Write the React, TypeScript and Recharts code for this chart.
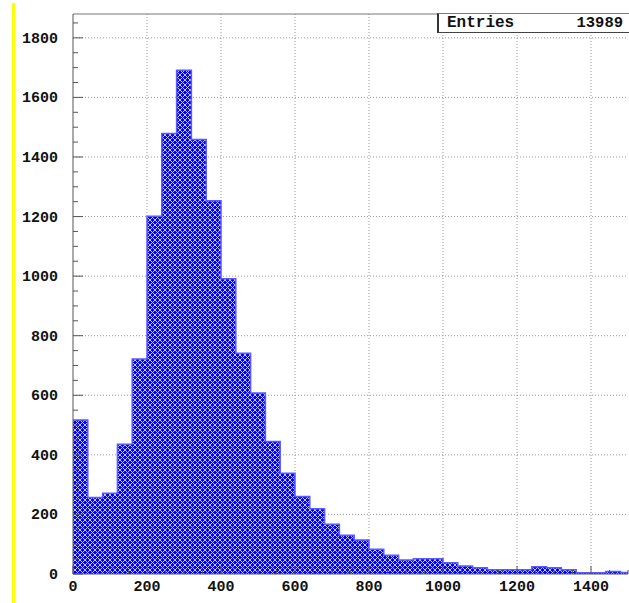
import React from 'react';
import { AreaChart, Area, XAxis, YAxis, CartesianGrid, ReferenceLine } from 'recharts';

// histogram bins, 40 wide, left edges
const binEdges = [
  0, 40, 80, 120, 160, 200, 240, 280, 320, 360, 400, 440, 480, 520, 560, 600, 640, 680, 720,
  760, 800, 840, 880, 920, 960, 1000, 1040, 1080, 1120, 1160, 1200, 1240, 1280, 1320, 1360,
  1400, 1440, 1480,
];
const counts = [
  517, 257, 271, 436, 722, 1201, 1479, 1691, 1459, 1253, 991, 741, 608, 445, 338, 260, 219,
  167, 130, 114, 83, 63, 47, 51, 51, 38, 27, 21, 14, 14, 14, 24, 21, 14, 4, 4, 8, 5,
];
const xMax = 1500;
const yMax = 1880;
const entries = 13989;

const xMajor = [0, 200, 400, 600, 800, 1000, 1200, 1400];
const yMajor = [0, 200, 400, 600, 800, 1000, 1200, 1400, 1600, 1800];
const xTicks = Array.from({ length: 31 }, (_, i) => i * 50);
const yTicks = Array.from({ length: 38 }, (_, i) => i * 50);

// step data: each edge carries its bin count, closing point at the axis end
const data = binEdges.map((x, i) => ({ x, count: counts[i] }));
data.push({ x: xMax, count: counts[counts.length - 1] });

const tickFont = { fontFamily: '"Liberation Mono", monospace', fontWeight: 700, fontSize: 15, fill: '#111' };

const YTick = (props: any) => {
  const { x, y, payload } = props;
  const v = payload.value;
  const major = v % 200 === 0;
  return (
    <g>
      <line x1={x} x2={x + (major ? 10 : 5)} y1={y} y2={y} stroke="#555" />
      {major && (
        <text x={x - 15} y={y} dy={5} textAnchor="end" {...tickFont}>
          {v}
        </text>
      )}
    </g>
  );
};

const XTick = (props: any) => {
  const { x, y, payload } = props;
  const v = payload.value;
  const major = v % 200 === 0;
  return (
    <g>
      <line x1={x} x2={x} y1={y} y2={y - (major ? 8 : 4)} stroke="#555" />
      {major && (
        <text x={x} y={y + 17} textAnchor="middle" {...tickFont}>
          {v}
        </text>
      )}
    </g>
  );
};

export default function App() {
  return (
    <div style={{ position: 'absolute', left: 0, top: 0, width: 629, height: 603, background: '#fff' }}>
      <div style={{ position: 'absolute', left: 12, top: 3, width: 2.5, height: 600, background: '#ffff00' }} />
      <AreaChart width={629} height={603} data={data} margin={{ top: 14, right: 1, bottom: 0, left: 0 }}>
        <defs>
          <pattern id="hatch" width="5" height="5" patternUnits="userSpaceOnUse">
            <rect width="5" height="5" fill="#0000ff" />
            <rect x="0" y="0" width="1" height="1" fill="#c8c8ff" />
            <rect x="1" y="1" width="1" height="1" fill="#c8c8ff" />
            <rect x="2" y="2" width="1" height="1" fill="#c8c8ff" />
            <rect x="3" y="3" width="1" height="1" fill="#c8c8ff" />
            <rect x="4" y="4" width="1" height="1" fill="#c8c8ff" />
            <rect x="4" y="0" width="1" height="1" fill="#c8c8ff" />
            <rect x="3" y="1" width="1" height="1" fill="#c8c8ff" />
            <rect x="1" y="3" width="1" height="1" fill="#c8c8ff" />
            <rect x="0" y="4" width="1" height="1" fill="#c8c8ff" />
          </pattern>
        </defs>
        <CartesianGrid
          stroke="#999"
          strokeDasharray="1 2"
          horizontalValues={yMajor.slice(1)}
          verticalValues={xMajor.slice(1)}
        />
        <XAxis
          dataKey="x"
          type="number"
          domain={[0, xMax]}
          ticks={xTicks}
          interval={0}
          height={29}
          tickSize={0}
          tickMargin={0}
          tick={<XTick />}
          axisLine={{ stroke: '#555' }}
          allowDataOverflow
        />
        <YAxis
          type="number"
          domain={[0, yMax]}
          ticks={yTicks}
          interval={0}
          width={73}
          tickSize={0}
          tickMargin={0}
          tick={<YTick />}
          axisLine={{ stroke: '#555' }}
          allowDataOverflow
        />
        <ReferenceLine y={yMax} stroke="#777" />
        <Area
          type="stepAfter"
          dataKey="count"
          stroke="#5a5aff"
          strokeWidth={1.5}
          fill="url(#hatch)"
          fillOpacity={1}
          dot={false}
          activeDot={false}
          isAnimationActive={false}
        />
      </AreaChart>
      <div
        style={{
          position: 'absolute',
          left: 437,
          top: 13,
          width: 192,
          height: 20,
          boxSizing: 'border-box',
          background: '#fff',
          borderTop: '1px solid #777',
          borderBottom: '1px solid #444',
          borderLeft: '2px solid #333',
          fontFamily: '"Liberation Mono", monospace',
          fontWeight: 700,
          fontSize: 16,
          color: '#111',
        }}
      >
        <span style={{ position: 'absolute', left: 8, top: 0, lineHeight: '18px' }}>Entries</span>
        <span style={{ position: 'absolute', right: 6, top: 0, lineHeight: '18px', fontSize: 15.5 }}>{entries}</span>
      </div>
    </div>
  );
}
